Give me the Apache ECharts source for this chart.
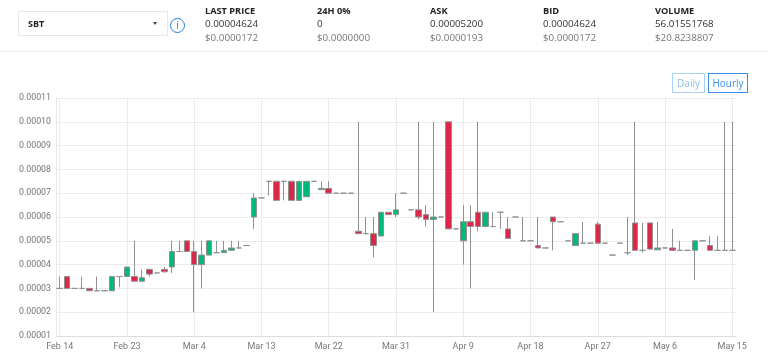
<!DOCTYPE html>
<html>
<head>
<meta charset="utf-8">
<style>
html, body { margin: 0; padding: 0; background: #fff; width: 768px; height: 358px; overflow: hidden; font-family: "Open Sans", sans-serif; }
#chart { position: absolute; left: 0; top: 0; width: 768px; height: 358px; }
.top { position: absolute; left: 0; top: 0; width: 768px; height: 51px; border-bottom: 1px solid #eeeeee; }
.sel { position: absolute; left: 18px; top: 11px; width: 148px; height: 23px; border: 1px solid #e8e8e8; font-size: 9px; font-weight: 700; line-height: 24px; color: #222; text-indent: 9px; }
.sel i { position: absolute; left: 134px; top: 10px; border: 2px solid transparent; border-top: 3px solid #444; }
.info { position: absolute; left: 170px; top: 18px; width: 13px; height: 13px; border: 1.7px solid #1a7fe0; border-radius: 50%; color: #1a7fe0; font-size: 10px; line-height: 13px; text-align: center; }
.cell { position: absolute; white-space: nowrap; }
.cell div { position: absolute; left: 0; white-space: nowrap; }
.cell .a { top: 4px; font-size: 9.2px; font-weight: 700; color: #222; }
.cell .b { top: 17px; font-size: 9.8px; color: #333; }
.cell .c { top: 31px; font-size: 9.8px; color: #777; }
.btn { position: absolute; top: 73px; height: 18px; border: 1px solid #a9d2f7; color: #8cbdf0; font-size: 10px; line-height: 18px; text-align: center; }
</style>
</head>
<body>
<div id="chart"></div>
<div class="top" id="top">
  <div class="sel">SBT<i></i></div>
  <div class="info">i</div>
</div>
<div class="btn" style="left:672px;width:31px">Daily</div>
<div class="btn" style="left:708px;width:38px;border-color:#3d8fe6;color:#3d8fe6">Hourly</div>
<script src="https://cdn.jsdelivr.net/npm/echarts@6/dist/echarts.min.js"></script>
<script>
const headTitles = ['LAST PRICE', '24H 0%', 'ASK', 'BID', 'VOLUME']
const headValues = ['0.00004624', '0', '0.00005200', '0.00004624', '56.01551768']
const headUsd = ['$0.0000172', '$0.0000000', '$0.0000193', '$0.0000172', '$20.8238807']
const headLeft = [205, 317, 430, 543, 655]

const categories = [
  'Feb 14','Feb 15','Feb 16','Feb 17','Feb 18','Feb 19','Feb 20','Feb 21','Feb 22','Feb 23','Feb 24','Feb 25','Feb 26','Feb 27','Feb 28',
  'Mar 1','Mar 2','Mar 3','Mar 4','Mar 5','Mar 6','Mar 7','Mar 8','Mar 9','Mar 10','Mar 11','Mar 12','Mar 13','Mar 14','Mar 15','Mar 16','Mar 17','Mar 18','Mar 19','Mar 20','Mar 21','Mar 22','Mar 23','Mar 24','Mar 25','Mar 26','Mar 27','Mar 28','Mar 29','Mar 30','Mar 31',
  'Apr 1','Apr 2','Apr 3','Apr 4','Apr 5','Apr 6','Apr 7','Apr 8','Apr 9','Apr 10','Apr 11','Apr 12','Apr 13','Apr 14','Apr 15','Apr 16','Apr 17','Apr 18','Apr 19','Apr 20','Apr 21','Apr 22','Apr 23','Apr 24','Apr 25','Apr 26','Apr 27','Apr 28','Apr 29','Apr 30',
  'May 1','May 2','May 3','May 4','May 5','May 6','May 7','May 8','May 9','May 10','May 11','May 12','May 13','May 14','May 15'
]

// prices in units of 0.00001
const opens = [3,3.5,3,3,3,2.9,2.9,2.9,3.5,3.5,3.5,3.3,3.8,3.65,3.8,3.9,4.55,5,4.55,4,4.4,4.5,4.5,4.6,4.7,4.8,
  6,6.8,7.5,7.5,7.5,7.5,6.7,6.85,7.5,7.15,7.2,7,7,7,5.4,5.3,5.3,5.2,6.2,6.1,7,6.3,6.3,6.1,5.9,6,10,5.5,
  5,5.8,6.2,5.6,5.6,6.2,5.5,6,5,5,4.8,4.7,6,5.8,5,4.8,4.9,4.9,5.7,4.9,4.4,4.9,4.5,5.75,4.6,5.75,4.62,4.7,4.7,4.6,4.6,4.6,5,4.8,4.6,4.6,4.6]
const closes = [3,3,3,3,2.9,2.9,2.9,3.5,3.5,3.9,3.3,3.45,3.6,3.65,3.7,4.55,4.55,4.55,4,4.4,5,4.5,4.6,4.7,4.7,4.8,
  6.8,6.8,7.5,6.7,7.5,6.7,7.5,7.5,7.5,7.2,7,7,7,7,5.3,5.3,4.8,6.2,6.1,6.3,7,6.3,6,5.9,6,6,5.5,5.5,
  5.8,5.6,5.6,6.2,5.6,6.2,5.1,6,5,5,4.7,4.7,5.8,5.8,5,5.3,4.9,4.9,4.9,4.9,4.4,4.9,4.5,4.6,4.6,4.65,4.7,4.7,4.6,4.6,4.6,5,5,4.6,4.6,4.6,4.6]
const lows = [3,3,3,3,2.9,2.9,2.9,2.9,3.05,3.5,3.3,3.3,3.5,3.65,3.65,3.65,4.55,4.55,2,3,4.4,4.5,4.5,4.6,4.7,4.8,
  5.5,6.8,6.9,6.7,6.7,6.7,6.7,6.85,7.5,7.15,7,7,7,7,5.3,5.3,4.3,5.2,6.1,6,7,6.3,5.9,5.6,2,6,5.5,5.5,
  4,3,5.4,5.6,5.6,5.5,5.1,6,5,5,4.7,4.7,4.6,5.8,5,4.8,4.9,4.9,4.9,4.9,4.4,4.9,4.4,4.6,4.5,4.65,4.62,4.7,4.6,4.6,4.6,3.35,5,4.6,4.6,4.6,4.6]
const highs = [3.5,3.5,3,3.5,3,3.5,2.9,3.5,3.5,3.9,5,3.8,3.8,3.65,3.9,5,5,5,5,5,5,5,5,5,5,4.8,
  7,6.8,7.5,7.5,7.5,7.5,7.5,7.5,7.5,7.5,7.5,7,7,7,10,6,6,6.2,6.2,7,7,6.3,10,6.5,10,6,10,5.5,
  6.5,6.5,10,6.2,6.2,6.2,6,6,6,5,6,4.7,6,5.8,5,5.3,5.8,4.9,5.8,4.9,4.4,4.9,6,10,5.75,5.75,5.8,4.7,5.5,5,4.6,5,5,5.2,5.2,10,10]

headTitles.forEach((t, i) => {
  let el = document.createElement('div')
  el.className = 'cell'
  el.style.left = headLeft[i] + 'px'
  el.style.top = '0px'
  el.innerHTML = `<div class="a">${t}</div><div class="b">${headValues[i]}</div><div class="c">${headUsd[i]}</div>`
  document.getElementById('top').appendChild(el)
})

let candleData = categories.map((c, i) => [opens[i], closes[i], lows[i], highs[i]])

let mychart = echarts.init(document.getElementById('chart'), null, { renderer: 'canvas' })
mychart.setOption({
  animation: false,
  grid: { left: 56, right: 32, top: 98, bottom: 22 },
  xAxis: {
    type: 'category',
    data: categories,
    axisLine: { lineStyle: { color: '#dcdcdc' } },
    axisTick: { show: false, alignWithLabel: true },
    axisLabel: { interval: 8, color: '#777', fontSize: 9, fontFamily: 'Roboto', margin: 6, showMaxLabel: true },
    splitLine: { show: true, interval: 8, alignWithLabel: true, lineStyle: { color: '#ebebeb' } }
  },
  yAxis: {
    type: 'value',
    min: 1,
    max: 11,
    interval: 1,
    scale: true,
    axisLine: { show: true, lineStyle: { color: '#e8e8e8' } },
    axisTick: { show: false },
    axisLabel: { color: '#777', fontSize: 8.8, fontFamily: 'Roboto', margin: 5, formatter: v => (v * 0.00001).toFixed(5) },
    splitLine: { show: true, lineStyle: { color: '#ebebeb' } }
  },
  series: [{
    type: 'candlestick',
    data: candleData,
    barWidth: 6,
    itemStyle: {
      color: '#00b976',
      color0: '#dc2748',
      borderColor: '#909090',
      borderColor0: '#909090',
      borderWidth: 1
    }
  }]
})
</script>
</body>
</html>
